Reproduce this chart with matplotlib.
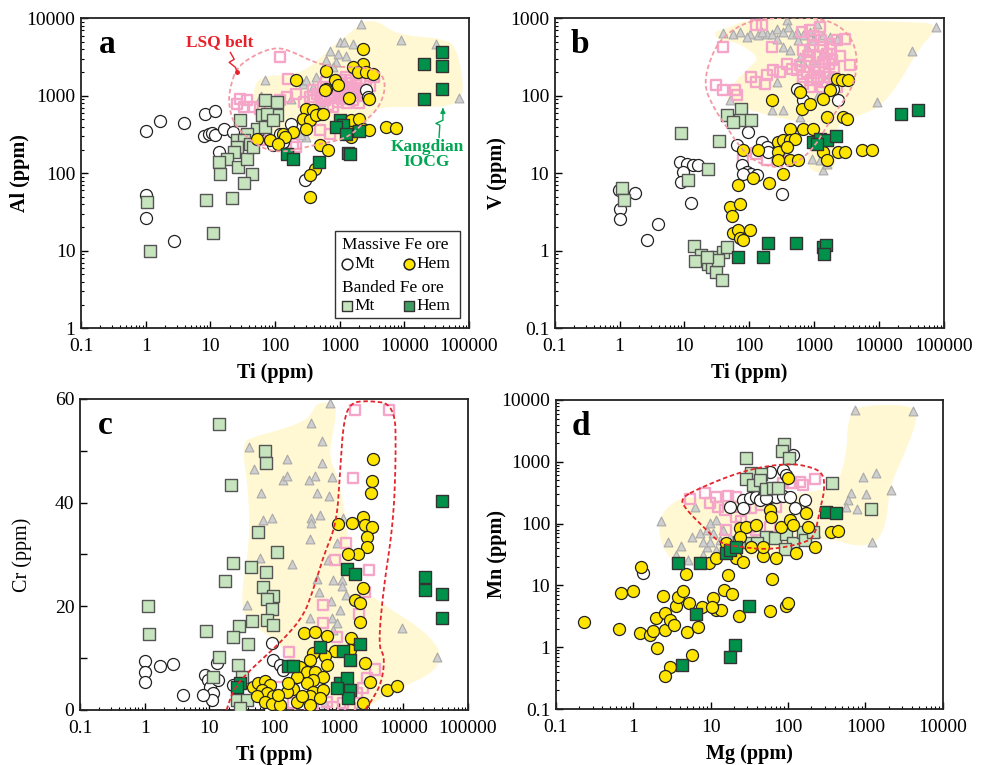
import numpy as np
import matplotlib
matplotlib.use("Agg")
import matplotlib.pyplot as plt
from matplotlib.patches import Polygon, Rectangle

plt.rcParams["font.family"] = ["Liberation Serif", "DejaVu Serif"]

# ---------------- panel a : Ti vs Al ----------------
A_MASSIVE_MT = [(1.0, 352), (1.64, 473), (3.9, 451), (8.4, 589), (11.9, 637), (8.1, 300), (9.4, 325),
                (10.6, 331), (11.9, 309), (16, 377), (22.8, 341), (13.4, 188), (25.7, 267), (94, 230),
                (134, 254), (180, 437), (119, 325), (1, 53), (1, 26.5), (2.7, 13.5), (295, 83),
                (2570, 1178), (2730, 966)]
A_MASSIVE_HEM = [(2286, 4060), (2286, 2600), (1603, 2355), (1914, 2030), (2570, 2030), (3260, 1932),
                 (624, 2090), (215, 1585), (837, 1585), (942, 1365), (624, 1236), (588, 1178),
                 (1393, 937), (2897, 919), (307, 683), (389, 650), (492, 589), (273, 507), (345, 483),
                 (437, 560), (554, 589), (307, 377), (191, 341), (134, 325), (84, 267), (52, 280),
                 (143, 294), (112, 242), (1510, 483), (2030, 507), (1426, 341), (2286, 377),
                 (2897, 359), (1510, 294), (5224, 396), (7447, 388), (492, 230), (662, 198),
                 (412, 115), (345, 94), (345, 50)]
A_BANDED_MT = [(70, 875), (106, 832), (62, 560), (106, 560), (29, 483), (52, 377), (70, 396), (37, 325),
               (26, 267), (33, 267), (41, 242), (26, 219), (23, 188), (18, 155), (13.4, 140), (27, 121),
               (37, 155), (14.3, 99), (44, 99), (33, 74), (8.6, 45), (22, 48), (1.06, 42), (11, 16.7),
               (1.15, 10), (46, 219), (74, 589), (94, 483)]
A_BANDED_HEM = [(37950, 3680), (20300, 2548), (37950, 2450), (37950, 1236), (20300, 919), (1000, 483),
                (1125, 416), (889, 396), (1268, 325), (2030, 352), (151, 179), (191, 155), (481, 140),
                (1343, 183), (1459, 179)]
A_IOCG = [(2150, 8370), (8890, 5310), (30700, 4710), (70200, 938), (1000, 4950), (1190, 4950),
          (1600, 4620), (702, 3790), (942, 3500), (1268, 3236), (624, 2870), (889, 2735), (70, 1585),
          (273, 1435), (389, 1300), (307, 1585), (789, 2355), (437, 1750), (307, 294), (250, 310),
          (180, 900), (60, 1000), (520, 820), (1500, 1200)]
A_LSQ = [(119, 3170), (160, 1633), (29, 919), (37, 875), (26, 793), (33, 718), (46, 718), (59, 683),
         (119, 875), (151, 966), (215, 1067), (345, 966), (389, 875), (492, 966), (789, 1015),
         (1000, 1067), (1268, 1178), (1803, 1365), (2570, 1585), (3450, 1750), (1603, 875), (789, 718),
         (492, 359), (702, 325), (191, 242), (215, 219), (59, 267), (1000, 1585), (1268, 1750),
         (624, 1508), (789, 1300), (389, 1178), (2286, 1236), (560, 1300), (900, 1200), (1100, 900),
         (1400, 1050), (1700, 1000), (2100, 1450), (600, 880), (280, 820), (450, 1050),
         (700, 1100), (850, 950), (1150, 1300), (1350, 1450), (1600, 1250), (1900, 1150),
         (2000, 800), (1300, 800), (950, 820), (650, 760), (1500, 1600), (1800, 1700), (2400, 1000),
         (1100, 1450), (750, 1250), (520, 950), (3000, 1350), (1200, 1000)]
A_FIELD = [(46.4, 1435), (74.5, 1838), (191, 1838), (389, 2475), (789, 4487), (1426, 6340),
           (2286, 9240), (3890, 9240), (6620, 6665), (13430, 5860), (38900, 5470), (66200, 4266),
           (88900, 919), (43750, 718), (13430, 718), (4120, 718), (2897, 560), (2570, 325),
           (1603, 267), (389, 267), (74.5, 325), (46.4, 483)]
A_OUTLINE = [(20.3, 1300), (25.7, 2355), (52.2, 3500), (106, 4266), (191, 3680), (389, 2735),
             (789, 2355), (2286, 2355), (4375, 2030), (5224, 1300), (4120, 718), (2570, 483),
             (1603, 325), (1000, 267), (389, 230), (151, 188), (74.5, 198), (41, 267), (22.8, 437),
             (19.1, 793)]

# ---------------- panel b : Ti vs V ----------------
B_MASSIVE_MT = [(0.98, 6.15), (1.0, 3.5), (1.0, 2.6), (1.72, 5.57), (2.69, 1.36), (3.93, 2.2),
                (12.4, 4.19), (8.5, 14), (10.8, 13.3), (13.6, 12.7), (9.55, 10.4), (9.0, 7.73),
                (16.3, 12.7), (63.7, 23), (96, 34), (155, 25.4), (185, 21.9), (196, 18.8), (76, 12.7),
                (91, 10.4), (108, 9.9), (130, 9.4), (80.5, 9.9), (315, 5.47), (536, 124), (679, 87.5),
                (1972, 124), (2355, 87.5)]
B_MASSIVE_HEM = [(221, 87.5), (604, 112), (641, 68), (861, 79), (1556, 53), (2818, 53), (3170, 50.7),
                 (2222, 167), (2655, 158), (3365, 158), (1754, 118), (1383, 92), (424, 37.7),
                 (679, 37.7), (970, 37.7), (280, 25.4), (334, 26.7), (424, 26.7), (506, 28), (280, 18.8),
                 (376, 21.9), (424, 14.7), (569, 14.7), (280, 14.7), (1383, 18.8), (1556, 14.7),
                 (2355, 18.8), (2985, 18.8), (5410, 19.8), (7710, 19.8), (80.5, 19.8), (137, 19.8),
                 (334, 9.9), (203, 7.4), (67.5, 7.15), (50.2, 3.68), (71.6, 3.98), (53.2, 2.79),
                 (56.5, 1.67), (67.5, 1.84), (102, 1.84), (71.6, 1.44), (80.5, 1.36), (115, 8.8)]
B_BANDED_MT = [(44.6, 56), (74, 68), (71.6, 48.3), (108, 48.3), (56.5, 46), (8.8, 33), (34, 25.9),
               (23.2, 11.5), (11.4, 8.1), (1.1, 6.5), (1.17, 4.57), (14.1, 1.15), (17.9, 0.87),
               (14.5, 0.74), (23.2, 0.68), (31.2, 0.83), (39.6, 0.97), (44.6, 1.12), (26.2, 0.62),
               (31.2, 0.53), (37.3, 0.42), (33.2, 0.75), (21.9, 0.83)]
B_BANDED_HEM = [(67.5, 0.82), (164, 0.83), (196, 1.24), (518, 1.26), (1383, 1.12), (1520, 1.18),
                (1416, 0.92), (21600, 58.9), (40450, 65), (970, 25.4), (1230, 28), (1556, 26.7),
                (2168, 30), (1092, 24.2)]
B_IOCG = [(39.6, 647), (56.5, 634), (71.6, 667), (102, 634), (137, 604), (185, 634), (221, 634),
          (264, 736), (334, 667), (376, 942), (399, 773), (449, 634), (536, 667), (679, 604),
          (861, 667), (1092, 853), (1383, 604), (1754, 574), (2222, 547), (334, 427), (424, 386),
          (604, 317), (679, 273), (970, 287), (264, 151), (226, 65), (334, 65), (604, 53), (1159, 101),
          (9200, 83), (31900, 378), (75900, 773), (914, 15.5), (1383, 10.9), (1230, 14.7),
          (1556, 13.3), (50.2, 87.5), (91, 574), (155, 667), (264, 547), (569, 520), (766, 427),
          (970, 520), (1383, 350), (1754, 193)]
B_LSQ = [(129, 813), (155, 813), (39.6, 427), (221, 427), (641, 667), (861, 700), (1230, 773),
         (679, 386), (861, 386), (1383, 427), (1754, 471), (2222, 520), (2985, 547), (3570, 248),
         (376, 260), (449, 224), (604, 248), (766, 203), (1028, 235), (1383, 273), (1862, 287),
         (108, 175), (129, 151), (185, 184), (174, 144), (234, 213), (296, 203), (31.2, 136),
         (39.6, 118), (60, 118), (63.7, 101), (679, 144), (861, 130), (1092, 158), (1469, 203),
         (1754, 175), (2222, 130), (185, 14.7), (129, 18), (296, 16.3), (80.5, 16.3), (679, 175),
         (536, 213), (861, 273), (1306, 130), (1100, 330), (1600, 350), (2000, 230), (900, 160),
         (1000, 200), (1200, 240), (1500, 300), (1800, 400), (1300, 520), (1000, 600), (800, 330),
         (1150, 170), (1700, 260), (2500, 330), (1400, 150), (950, 450)]
B_FIELD = [(27.7, 667), (44.6, 736), (80.5, 925), (208, 991), (679, 991), (2222, 942), (7260, 925),
           (23700, 897), (92700, 853), (43000, 427), (18750, 130), (10370, 71.8), (5090, 56),
           (2500, 46), (2222, 32.5), (1972, 21.9), (2222, 12.1), (1383, 9.9), (861, 10.9), (766, 16.3),
           (1092, 29.4), (861, 43.8), (334, 50.7), (129, 61.8), (50.2, 79.2), (44.6, 107),
           (56.5, 144), (102, 235), (146, 317), (63.7, 496), (33.2, 520)]
B_OUTLINE = [(19.5, 144), (27.7, 386), (44.6, 634), (102, 942), (376, 1040), (1556, 991),
             (3570, 634), (4800, 302), (4020, 130), (2222, 65), (1556, 39.6), (1092, 24.2),
             (679, 15.5), (376, 12.1), (208, 12.1), (115, 14.7), (71.6, 21.9), (44.6, 39.6),
             (27.7, 71.8)]

# ---------------- panel c : Ti vs Cr ----------------
C_MASSIVE_MT = [(1.01, 9.5), (1.01, 7.4), (1.01, 5.3), (1.73, 8.5), (2.71, 8.8), (3.96, 2.9), (8.57, 6.75),
                (9.66, 5.8), (10.2, 4.5), (11.5, 3.2), (10.9, 1.9), (8.07, 2.9), (13, 9.0), (13.8, 5.8),
                (23.5, 4.8), (92, 12.9), (95, 9.6), (124, 8.7), (139, 7.7), (77, 1.3), (87, 0.1),
                (124, 0.6)]
C_MASSIVE_HEM = [(3360, 48.4), (3320, 44.2), (3160, 41.9), (2350, 37.3), (2550, 35.7), (3240, 35.2),
                 (2770, 33.4), (2710, 31.5), (2010, 30.1), (1377, 30.1), (989, 35.8), (1589, 36.0),
                 (2350, 23.5), (1790, 21.2), (2138, 20.6), (2138, 17.0), (291, 14.8), (431, 15.0),
                 (652, 14.3), (1535, 13.8), (1496, 11.6), (2550, 9.0), (878, 11.4), (615, 10.4),
                 (406, 10.9), (360, 9.6), (252, 8.2), (320, 7.4), (431, 7.4), (652, 8.7), (579, 6.4),
                 (406, 5.8), (320, 5.1), (224, 6.4), (199, 4.0), (406, 3.5), (579, 3.9), (3055, 5.3),
                 (5520, 3.9), (7890, 4.6), (47.9, 4.5), (57.3, 5.1), (72.6, 5.5), (86.7, 4.8),
                 (64.4, 3.9), (77.1, 3.2), (97.7, 2.6), (54, 2.6), (72.6, 1.6), (92, 1.2), (124, 1.0),
                 (157, 3.5), (224, 1.6), (360, 2.6), (514, 2.3), (360, 1.0), (268, 2.6), (2405, 1.4),
                 (167, 5.1), (117, 2.9)]
C_BANDED_MT = [(14.1, 55.1), (72.6, 50.0), (74.3, 47.7), (21.6, 43.4), (57.3, 34.3), (110, 30.4),
               (22.9, 28.4), (44.1, 27.5), (75.2, 26.7), (17.5, 24.8), (66.8, 23.7), (97.7, 22.0),
               (77.1, 21.4), (92, 19.4), (77.1, 17.4), (97.7, 16.4), (45.2, 17.2), (29.1, 16.1),
               (22.9, 14.0), (39.2, 12.7), (1.11, 20.1), (1.17, 14.7), (8.77, 15.2), (14.3, 10.3),
               (27.4, 8.6), (11.5, 6.3), (31.6, 6.4), (26.5, 1.9), (37.8, 1.9), (29.8, 0.3)]
C_BANDED_HEM = [(40100, 40.4), (21600, 25.6), (21600, 23.2), (40100, 22.4), (39200, 17.7), (1361, 27.2),
                (1790, 26.2), (514, 12.1), (1180, 11.3), (1496, 9.6), (2138, 12.7), (167, 8.4),
                (199, 8.4), (29.8, 5.1), (26.5, 4.5), (1049, 5.1), (1330, 6.1), (1496, 3.9),
                (1410, 2.3), (931, 4.2)]
C_IOCG = [(735, 59.2), (373, 55.3), (546, 51.8), (41.6, 50.8), (161, 48.4), (49.7, 46.4), (546, 47.7),
          (136, 44.4), (161, 45.1), (431, 45.1), (798, 45.0), (352, 44.4), (63, 41.8), (457, 41.9),
          (718, 41.3), (92, 37.1), (68.4, 36.7), (373, 37.1), (514, 37.7), (373, 36.0), (1180, 37.0),
          (360, 33.0), (953, 32.2), (60.8, 29.4), (192, 28.2), (677, 28.9), (457, 25.2), (828, 25.1),
          (1112, 25.1), (502, 22.8), (1112, 23.9), (1282, 22.2), (37.8, 20.3), (761, 21.1),
          (1049, 19.3), (360, 17.8), (779, 17.7), (931, 16.7), (828, 15.4), (9420, 15.9),
          (32700, 10.3), (615, 1.3), (2010, 0.2)]
C_LSQ = [(1790, 57.9), (6080, 57.9), (1644, 44.7), (1297, 32.2), (877, 28.9), (2980, 27.0), (2550, 22.8),
         (579, 20.3), (2090, 18.6), (931, 14.1), (566, 16.7), (173, 11.1), (3650, 7.8), (2710, 6.1),
         (1897, 3.2), (199, 1.3), (252, 0.6), (406, 1.0), (828, 0.6), (1180, 1.3), (1496, 0.3),
         (124, 4.5), (177, 3.9), (97.7, 1.0), (652, 1.6), (2405, 4.2)]
C_FIELD = [(485, 59.3), (931, 59.3), (878, 55.3), (692, 48.9), (989, 45.0), (1330, 36.0), (1496, 29.6),
           (2405, 23.2), (5520, 19.9), (14300, 16.7), (29100, 13.5), (39200, 10.3), (29100, 7.1),
           (7890, 3.9), (3435, 1.3), (2405, 0), (514, 0), (199, 8.4), (124, 12.9), (60.8, 15.4),
           (33.6, 18.0), (31.6, 23.2), (42.6, 32.8), (40.1, 42.4), (31.6, 51.4), (47.9, 52.7),
           (124, 54.0), (320, 55.9), (406, 57.9)]
C_OUTLINE = [(18.5, 0), (23.5, 3.9), (37.8, 7.1), (124, 12.9), (284, 18.0), (406, 23.2), (579, 29.6),
             (931, 36.0), (1049, 45.7), (1180, 55.3), (1496, 59.2), (2710, 59.7), (7430, 59.0),
             (7710, 48.9), (7000, 36.0), (4910, 23.2), (4100, 12.2), (5200, 10.3), (4620, 5.1),
             (3055, 1.3), (2550, 0)]

# ---------------- panel d : Mg vs Mn ----------------
D_MASSIVE_MT = [(1.34, 16.1), (58.2, 692), (86.5, 736), (116, 1288), (95.5, 611), (26.3, 241), (32, 256),
                (39.1, 273), (47.7, 273), (58.2, 273), (71, 273), (86.5, 280), (105, 273), (17.7, 188),
                (26.3, 177), (122, 177), (165, 241), (43.3, 241), (52.7, 256)]
D_MASSIVE_HEM = [(0.23, 2.52), (0.658, 2.0), (0.69, 7.45), (0.98, 8.1), (1.28, 20.1), (1.22, 1.72),
                 (1.64, 1.57), (1.81, 1.85), (2.04, 0.96), (2.56, 1.9), (2.0, 3.0), (2.56, 3.62),
                 (2.97, 2.76), (3.35, 2.29), (2.44, 6.73), (3.62, 4.64), (3.81, 6.41), (4.34, 8.22),
                 (5.28, 5.13), (4.98, 1.74), (6.9, 2.15), (5.83, 0.75), (2.97, 0.48), (2.56, 0.34),
                 (4.79, 15.3), (7.78, 4.53), (10.8, 6.18), (11.9, 4.0), (13.8, 4.0), (14.8, 8.43),
                 (19.2, 7.26), (16.9, 14.7), (23.1, 3.2), (9.58, 22.8), (11.9, 27.4), (21.6, 27.4),
                 (26.3, 24.2), (47.7, 30.3), (69.6, 27.4), (126, 33.0), (222, 41.3), (58.2, 3.9),
                 (93.8, 4.64), (100, 5.13), (63, 12.7), (23.8, 83.8), (29, 89.1), (39.1, 94.8),
                 (58.2, 166), (60, 129), (82.4, 89.1), (105, 114), (116, 94.8), (170, 150), (182, 89.1),
                 (365, 74), (445, 76.9), (16, 48), (23.8, 61.5), (33.7, 42.4), (47.7, 42.4), (100, 540),
                 (10.3, 4.53)]
D_BANDED_MT = [(89.1, 1919), (84, 1496), (103, 1138), (28.5, 1138), (33.7, 650), (45.4, 635), (28.5, 520),
               (35.5, 421), (43.3, 508), (52.7, 358), (64.3, 372), (74.6, 381), (376, 459), (1175, 172),
               (23.4, 51), (33.7, 48), (52.7, 61.5), (67.6, 57.8), (95.5, 67.9), (116, 48), (157, 74),
               (165, 54.3), (211, 74), (91, 38.4), (40.4, 48)]
D_BANDED_HEM = [(314, 156), (423, 147), (16, 33), (17.7, 37.4), (21.6, 42.4), (3.81, 23.3), (7.26, 23.3),
                (6.44, 3.4), (31.2, 4.64), (20.6, 1.09), (17.7, 0.7), (4.29, 0.51)]
D_IOCG = [(730, 6890), (4140, 6720), (935, 561), (1362, 667), (2170, 350), (648, 317), (1033, 302),
          (598, 241), (558, 183), (782, 170), (2.32, 111), (6.25, 188), (2.82, 49.8), (4.2, 44),
          (3.62, 31), (5.13, 25.8), (8.0, 31), (8.86, 42.4), (9.77, 51), (11.9, 37.4), (5.67, 61.5),
          (7.24, 69.7), (8.86, 78.7), (9.77, 101), (11.9, 114), (14.5, 78.7), (17.7, 61.5),
          (13.2, 54.3), (1233, 49.8), (233, 69.7), (166, 241), (10.8, 69.7), (8.0, 51)]
D_LSQ = [(5.38, 247), (8.41, 309), (11.9, 266), (16.9, 280), (21.6, 273), (9.77, 213), (12.5, 188),
         (15.2, 166), (27.7, 177), (33.7, 177), (21.6, 129), (16, 78.7), (32, 89.1), (39.1, 78.7),
         (71, 188), (58.2, 89.1), (86.5, 449), (111, 459), (142, 477), (222, 520), (157, 421),
         (45, 200), (60, 150), (25, 110)]
D_FIELD = [(598, 5370), (847, 8300), (4570, 8300), (4570, 4190), (3070, 1211), (2065, 396), (1872, 101),
           (1390, 48), (767, 42.4), (347, 57.8), (191, 54.3), (157, 42.4), (58.2, 29.2), (17.7, 25.8),
           (8.0, 22.8), (4.0, 21.4), (2.69, 31), (2.1, 69.7), (2.32, 147), (3.62, 241), (5.38, 273),
           (10.8, 241), (21.6, 241), (58.2, 273), (157, 309), (423, 396), (569, 1211)]
D_OUTLINE = [(4.0, 256), (8.0, 396), (21.6, 650), (47.7, 834), (95.5, 920), (157, 887), (284, 692),
             (299, 350), (258, 166), (222, 61.5), (157, 48), (58.2, 37.4), (21.6, 42.4), (13.2, 48),
             (8.0, 89.1), (4.88, 166)]

LOG_TICKS_TI = [0.1, 1, 10, 100, 1000, 10000, 100000]
LOG_TICKS_MG = [0.1, 1, 10, 100, 1000, 10000]

YELLOW_FIELD = "#fff8d2"
C_MT = "white"
C_HEM = "#ffe500"
C_BMT = "#c6e4bd"
C_BHEM = "#00924a"


def smooth(pts, logx, logy, closed=True, n=3):
    p = np.array(pts, dtype=float)
    if logx:
        p[:, 0] = np.log10(p[:, 0])
    if logy:
        p[:, 1] = np.log10(np.clip(p[:, 1], 1e-6, None))
    for _ in range(n):
        q = np.roll(p, -1, axis=0) if closed else p[1:]
        b = p if closed else p[:-1]
        new = np.empty((2 * len(b), 2))
        new[0::2] = 0.75 * b + 0.25 * q
        new[1::2] = 0.25 * b + 0.75 * q
        if not closed:
            new = np.vstack([p[:1], new, p[-1:]])
        p = new
    if logx:
        p[:, 0] = 10 ** p[:, 0]
    if logy:
        p[:, 1] = 10 ** p[:, 1]
    return p


def xy(pts):
    a = np.array(pts, dtype=float)
    return a[:, 0], a[:, 1]


def panel(ax, field, outline, iocg, lsq, mmt, mhem, bmt, bhem, logy, outline_color, closed=True):
    ax.add_patch(Polygon(smooth(field, True, logy), closed=True, fc=YELLOW_FIELD, ec="none", zorder=1))
    o = smooth(outline, True, logy, closed=closed)
    if closed:
        o = np.vstack([o, o[:1]])
    ax.plot(o[:, 0], o[:, 1], ls=(0, (2.5, 1.5)), color=outline_color, lw=1.3, zorder=5)
    x, y = xy(iocg)
    ax.scatter(x, y, marker="^", s=40, fc="#cfcfcf", ec="#a9a9a9", lw=0.8, zorder=2)
    x, y = xy(lsq)
    ax.scatter(x, y, marker="s", s=52, fc="none", ec="#f5a6c8", lw=1.7, zorder=3)
    x, y = xy(mmt)
    ax.scatter(x, y, marker="o", s=75, fc=C_MT, ec="#222222", lw=0.9, zorder=4)
    x, y = xy(bmt)
    ax.scatter(x, y, marker="s", s=68, fc=C_BMT, ec="#555555", lw=1.0, zorder=4)
    x, y = xy(mhem)
    ax.scatter(x, y, marker="o", s=75, fc=C_HEM, ec="#222222", lw=0.9, zorder=4)
    x, y = xy(bhem)
    ax.scatter(x, y, marker="s", s=68, fc=C_BHEM, ec="#333333", lw=1.0, zorder=4)


def style(ax, xticks, xlabel, ylabel, ylabel_x, ylabel_weight="bold"):
    ax.set_xscale("log")
    ax.set_xlim(xticks[0], xticks[-1])
    ax.set_xticks(xticks)
    ax.set_xticklabels([("%g" % t) if t >= 1 else "0.1" for t in xticks])
    ax.tick_params(which="both", direction="in", top=False, right=False, labelsize=14)
    ax.tick_params(axis="x", pad=7)
    ax.tick_params(axis="y", pad=4)
    ax.tick_params(which="major", length=5, width=1)
    ax.tick_params(which="minor", length=2.5, width=0.8)
    for s in ax.spines.values():
        s.set_linewidth(1.3)
        s.set_color("#222222")
    ax.set_xlabel(xlabel, fontsize=14.5, fontweight="bold", labelpad=6)
    ax.set_ylabel(ylabel, fontsize=14.5, fontweight=ylabel_weight)
    ax.yaxis.set_label_coords(ylabel_x, 0.5)


fig = plt.figure(figsize=(9.82, 7.65), dpi=100)
ax_a = fig.add_axes([0.0825, 0.571, 0.395, 0.405])
ax_b = fig.add_axes([0.565, 0.571, 0.396, 0.405])
ax_c = fig.add_axes([0.0815, 0.072, 0.395, 0.4065])
ax_d = fig.add_axes([0.566, 0.0732, 0.394, 0.404])

# panel a
panel(ax_a, A_FIELD, A_OUTLINE, A_IOCG, A_LSQ, A_MASSIVE_MT, A_MASSIVE_HEM, A_BANDED_MT, A_BANDED_HEM,
      True, "#f39aa6")
style(ax_a, LOG_TICKS_TI, "Ti (ppm)", "Al (ppm)", -0.131)
ax_a.set_yscale("log")
ax_a.set_ylim(1, 10000)
ax_a.set_yticks([1, 10, 100, 1000, 10000])
ax_a.set_yticklabels(["1", "10", "100", "1000", "10000"])

# panel b
panel(ax_b, B_FIELD, B_OUTLINE, B_IOCG, B_LSQ, B_MASSIVE_MT, B_MASSIVE_HEM, B_BANDED_MT, B_BANDED_HEM,
      True, "#f39aa6")
style(ax_b, LOG_TICKS_TI, "Ti (ppm)", "V (ppm)", -0.123)
ax_b.set_yscale("log")
ax_b.set_ylim(0.1, 1000)
ax_b.set_yticks([0.1, 1, 10, 100, 1000])
ax_b.set_yticklabels(["0.1", "1", "10", "100", "1000"])

# panel c
panel(ax_c, C_FIELD, C_OUTLINE, C_IOCG, C_LSQ, C_MASSIVE_MT, C_MASSIVE_HEM, C_BANDED_MT, C_BANDED_HEM,
      False, "#e3262d", closed=False)
style(ax_c, LOG_TICKS_TI, "Ti (ppm)", "Cr (ppm)", -0.124, ylabel_weight="normal")
ax_c.set_ylim(0, 60)
ax_c.set_yticks([0, 20, 40, 60])
ax_c.set_yticks([10, 30, 50], minor=True)
ax_c.tick_params(axis="y", which="minor", length=5, width=1)

# panel d
panel(ax_d, D_FIELD, D_OUTLINE, D_IOCG, D_LSQ, D_MASSIVE_MT, D_MASSIVE_HEM, D_BANDED_MT, D_BANDED_HEM,
      True, "#e3262d")
style(ax_d, LOG_TICKS_MG, "Mg (ppm)", "Mn (ppm)", -0.126)
ax_d.set_yscale("log")
ax_d.set_ylim(0.1, 10000)
ax_d.set_yticks([0.1, 1, 10, 100, 1000, 10000])
ax_d.set_yticklabels(["0.1", "1", "10", "100", "1000", "10000"])

for ax, letter, lx in [(ax_a, "a", 0.045), (ax_b, "b", 0.04), (ax_c, "c", 0.045), (ax_d, "d", 0.04)]:
    ax.text(lx, 0.965, letter, transform=ax.transAxes, fontsize=24, fontweight="bold",
            va="top", ha="left", zorder=10)

# annotations on panel a
ax_a.text(0.358, 0.923, "LSQ belt", transform=ax_a.transAxes, color="#e8202a", fontsize=12.5,
          fontweight="bold", ha="center", va="center", zorder=10)
zx = [0.385, 0.395, 0.382, 0.398, 0.403]
zy = [0.890, 0.868, 0.858, 0.842, 0.826]
ax_a.plot(zx, zy, color="#e8202a", lw=1.0, transform=ax_a.transAxes, zorder=10)
ax_a.plot([0.403], [0.826], marker="o", ms=2.5, color="#e8202a", transform=ax_a.transAxes, zorder=10)

ax_a.text(0.892, 0.56, "Kangdian\nIOCG", transform=ax_a.transAxes, color="#00a651", fontsize=12.5,
          fontweight="bold", ha="center", va="center", linespacing=0.95, zorder=10)
kx = [0.923, 0.925, 0.915, 0.933, 0.933]
ky = [0.616, 0.655, 0.661, 0.671, 0.70]
ax_a.plot(kx, ky, color="#00a651", lw=1.0, transform=ax_a.transAxes, zorder=10)
ax_a.annotate("", xy=(0.933, 0.72), xytext=(0.933, 0.695), xycoords="axes fraction",
              arrowprops=dict(arrowstyle="-|>", color="#00a651", lw=1.0, mutation_scale=7), zorder=10)

# legend box on panel a
ax_a.add_patch(Rectangle((0.655, 0.032), 0.322, 0.281, transform=ax_a.transAxes, fc="white",
                         ec="#333333", lw=1.0, zorder=8))
tk = dict(transform=ax_a.transAxes, fontsize=12.5, va="center", ha="left", zorder=9)
ax_a.text(0.673, 0.268, "Massive Fe ore", **tk)
ax_a.text(0.673, 0.130, "Banded Fe ore", **tk)
ax_a.text(0.705, 0.208, "Mt", **tk)
ax_a.text(0.866, 0.208, "Hem", **tk)
ax_a.text(0.705, 0.072, "Mt", **tk)
ax_a.text(0.866, 0.072, "Hem", **tk)
ax_a.scatter([0.686], [0.208], s=60, marker="o", fc=C_MT, ec="#222222", lw=1.1, transform=ax_a.transAxes, zorder=9)
ax_a.scatter([0.845], [0.208], s=60, marker="o", fc=C_HEM, ec="#222222", lw=1.1, transform=ax_a.transAxes, zorder=9)
ax_a.scatter([0.686], [0.072], s=50, marker="s", fc=C_BMT, ec="#333333", lw=1.0, transform=ax_a.transAxes, zorder=9)
ax_a.scatter([0.845], [0.072], s=50, marker="s", fc="#3f9d60", ec="#333333", lw=1.0, transform=ax_a.transAxes, zorder=9)

fig.savefig("out.png", dpi=100)
